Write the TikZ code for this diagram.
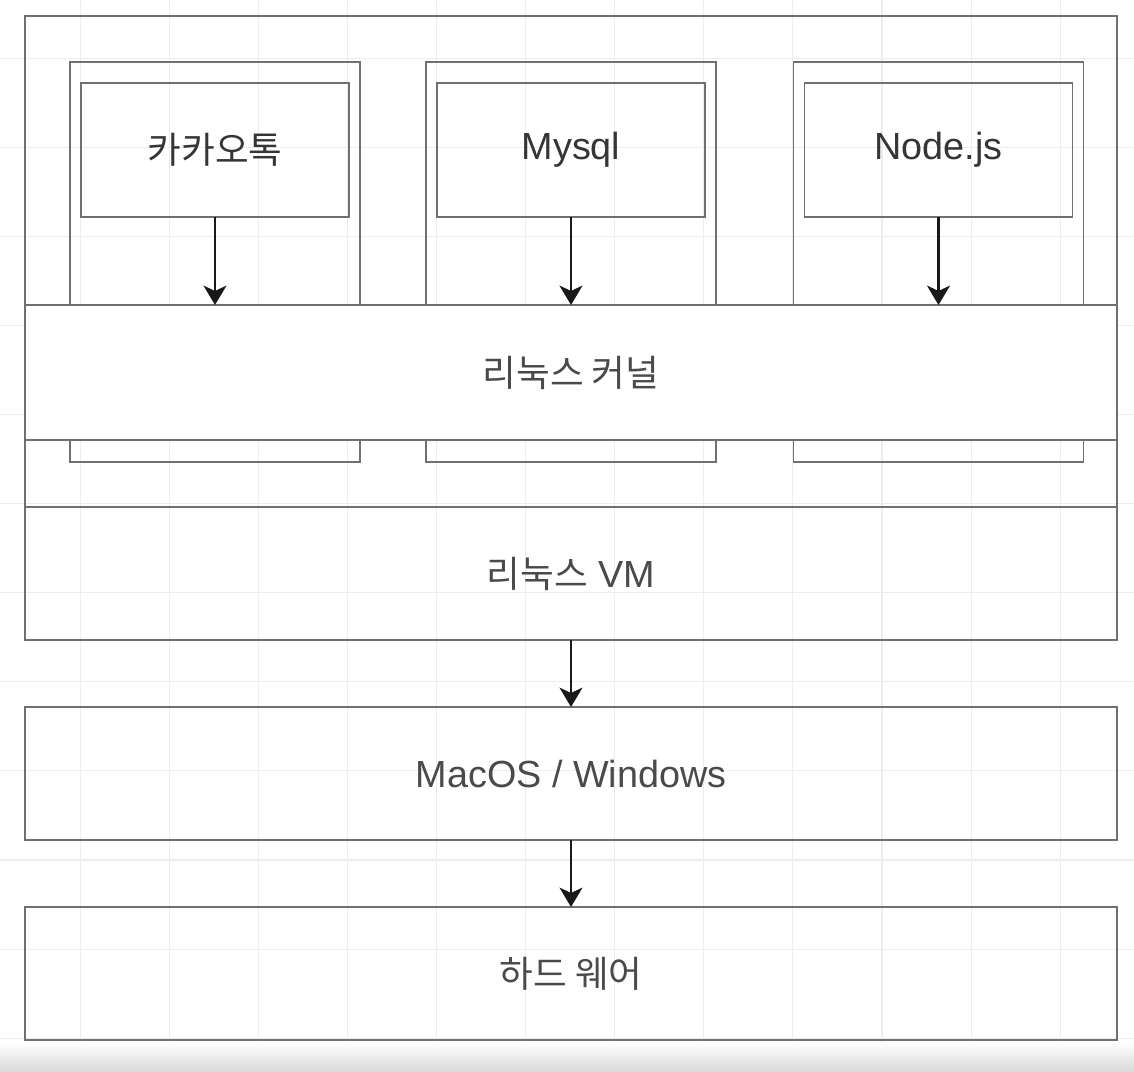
\documentclass[tikz,border=0pt]{standalone}
\usepackage{fontspec}
\setmainfont{Liberation Sans}
\newfontfamily\kr[Scale=0.97]{Noto Sans CJK KR}
\usetikzlibrary{arrows.meta}
\definecolor{boxline}{HTML}{707070}
\definecolor{labelgray}{HTML}{4A4A4A}
\definecolor{appgray}{HTML}{353535}
\definecolor{gridgray}{HTML}{EDEDED}
\tikzset{
  box/.style={draw=boxline,line width=1pt,inner sep=0pt,outer sep=0pt,text=labelgray,font=\fontsize{21.5}{26}\selectfont},
  flow/.style={-{Stealth[length=11pt,width=13pt,inset=3pt]},line width=1.6pt,black!90},
  gridline/.style={gridgray,line width=0.6pt}
}
\begin{document}
\begin{tikzpicture}[x=0.02cm,y=-0.02cm]
\useasboundingbox (0,0) rectangle (1134,1072);
% background grid
\foreach \i in {1,...,12}{\draw[gridline]({-9+89.1*\i},0)--({-9+89.1*\i},1072);}
\foreach \j in {1,...,12}{\draw[gridline](0,{-31+89.1*\j})--(1134,{-31+89.1*\j});}
\shade[top color=white,bottom color=gray!30](0,1042) rectangle (1134,1072);
% vm and containers
\node[box,minimum width=21.84cm,minimum height=9.82cm] (vmhost) at (571,261.5) {};
\foreach \cx/\name/\txt in {215/kakao/{{\kr 카카오톡}},571/mysql/Mysql,938.5/nodejs/Node.js}{
\node[box,minimum width=5.8cm,minimum height=8cm] (ctr-\name) at (\cx,262) {};
\node[box,minimum width=5.36cm,minimum height=2.68cm,text=appgray] (\name) at (\cx,150) {\txt};}
\node[box,fill=white,minimum width=21.84cm,minimum height=2.7cm] (kernel) at (571,372.5) {\kr 리눅스 커널};
\foreach \name in {kakao,mysql,nodejs}{\draw[flow](\name)--(\name|-kernel.north);}
% layers below
\node[box,minimum width=21.84cm,minimum height=2.66cm] (vm) at (571,573.5) {{\kr 리눅스} VM};
\node[box,minimum width=21.84cm,minimum height=2.66cm] (macos) at (571,773.5) {MacOS / Windows};
\node[box,minimum width=21.84cm,minimum height=2.66cm] (hardware) at (571,973.5) {\kr 하드 웨어};
\draw[flow](vm)--(macos);
\draw[flow](macos)--(hardware);
\end{tikzpicture}
\end{document}
